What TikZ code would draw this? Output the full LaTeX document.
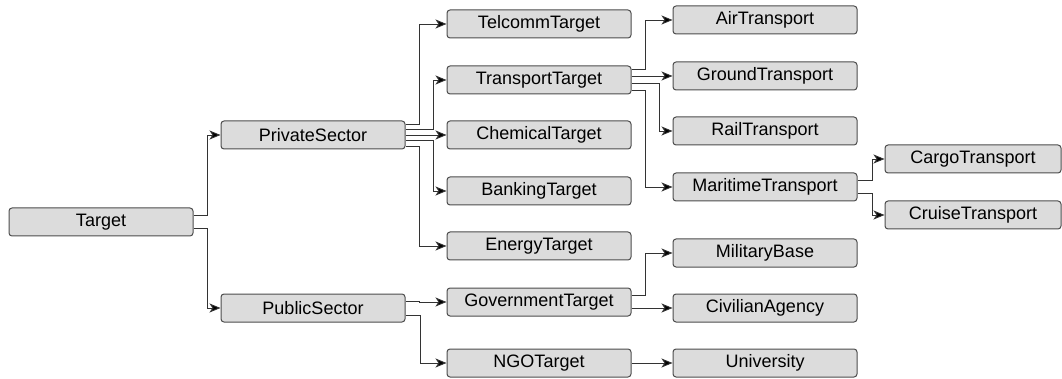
\documentclass[tikz,border=0pt]{standalone}
\usepackage{fontspec}
\setmainfont{Liberation Sans}
\usetikzlibrary{arrows.meta, positioning}

\definecolor{boxfill}{HTML}{DCDCDC}
\definecolor{boxline}{HTML}{4D4D4D}
\definecolor{wire}{HTML}{333333}

\begin{document}
\begin{tikzpicture}[
    x=1pt, y=-1pt,
    cls/.style={rectangle, draw=boxline, line width=1pt, fill=boxfill, rounded corners=3pt, minimum width=184pt, minimum height=28pt, inner sep=0pt, align=center, font=\fontsize{18}{21}\selectfont},
    leaf/.style={cls, minimum width=176pt},
    arrow/.style={-{Stealth[length=11pt, width=9pt, inset=3pt, fill=black]}, line width=0.9pt, draw=wire}
]
    \useasboundingbox (0,0) rectangle (1062,379);

    % Nodes
    \node[cls] (target) at (101,222) {Target};
    \node[cls] (private) at (313,135) {PrivateSector};
    \node[cls] (public) at (313,308) {PublicSector};

    \node[cls] (telcomm) at (539,24) {TelcommTarget};
    \node[cls] (transport) at (539,80) {TransportTarget};
    \node[cls] (chemical) at (539,135) {ChemicalTarget};
    \node[cls] (banking) at (539,191) {BankingTarget};
    \node[cls] (energy) at (539,246) {EnergyTarget};
    \node[cls] (government) at (539,302) {GovernmentTarget};
    \node[cls] (ngo) at (539,363) {NGOTarget};

    \node[cls] (air) at (765,20) {AirTransport};
    \node[cls] (ground) at (765,76) {GroundTransport};
    \node[cls] (rail) at (765,131) {RailTransport};
    \node[cls] (maritime) at (765,187) {MaritimeTransport};
    \node[cls] (military) at (765,253) {MilitaryBase};
    \node[cls] (civilian) at (765,308) {CivilianAgency};
    \node[cls] (university) at (765,363) {University};

    \node[leaf] (cargo) at (973,159) {CargoTransport};
    \node[leaf] (cruise) at (973,215) {CruiseTransport};

    % Arrows
    \draw[arrow] ([yshift=6.5pt]target.east) -- ++(14,0) |- (private);
    \draw[arrow] ([yshift=-6.5pt]target.east) -- ++(14,0) |- (public);

    \draw[arrow] ([yshift=11pt]private.east) -- ++(14,0) |- (telcomm);
    \draw[arrow] ([yshift=5.5pt]private.east) -- ++(28,0) |- (transport);
    \draw[arrow] (private) -- (chemical);
    \draw[arrow] ([yshift=-5.5pt]private.east) -- ++(28,0) |- (banking);
    \draw[arrow] ([yshift=-11pt]private.east) -- ++(14,0) |- (energy);

    \draw[arrow] ([yshift=7pt]public.east) -- ++(14,0) |- (government);
    \draw[arrow] ([yshift=-7pt]public.east) -- ++(15,0) |- (ngo);

    \draw[arrow] ([yshift=10.5pt]transport.east) -- ++(14,0) |- (air);
    \draw[arrow] ([yshift=3.5pt]transport.east) -- ++(14,0) |- (ground);
    \draw[arrow] ([yshift=-3.5pt]transport.east) -- ++(28,0) |- (rail);
    \draw[arrow] ([yshift=-10.5pt]transport.east) -- ++(14,0) |- (maritime);

    \draw[arrow] ([yshift=6.5pt]maritime.east) -- ++(15,0) |- (cargo);
    \draw[arrow] ([yshift=-6.5pt]maritime.east) -- ++(15,0) |- (cruise);

    \draw[arrow] ([yshift=6.5pt]government.east) -- ++(14,0) |- (military);
    \draw[arrow] ([yshift=-6.5pt]government.east) -- ++(14,0) |- (civilian);

    \draw[arrow] (ngo) -- (university);
\end{tikzpicture}
\end{document}
